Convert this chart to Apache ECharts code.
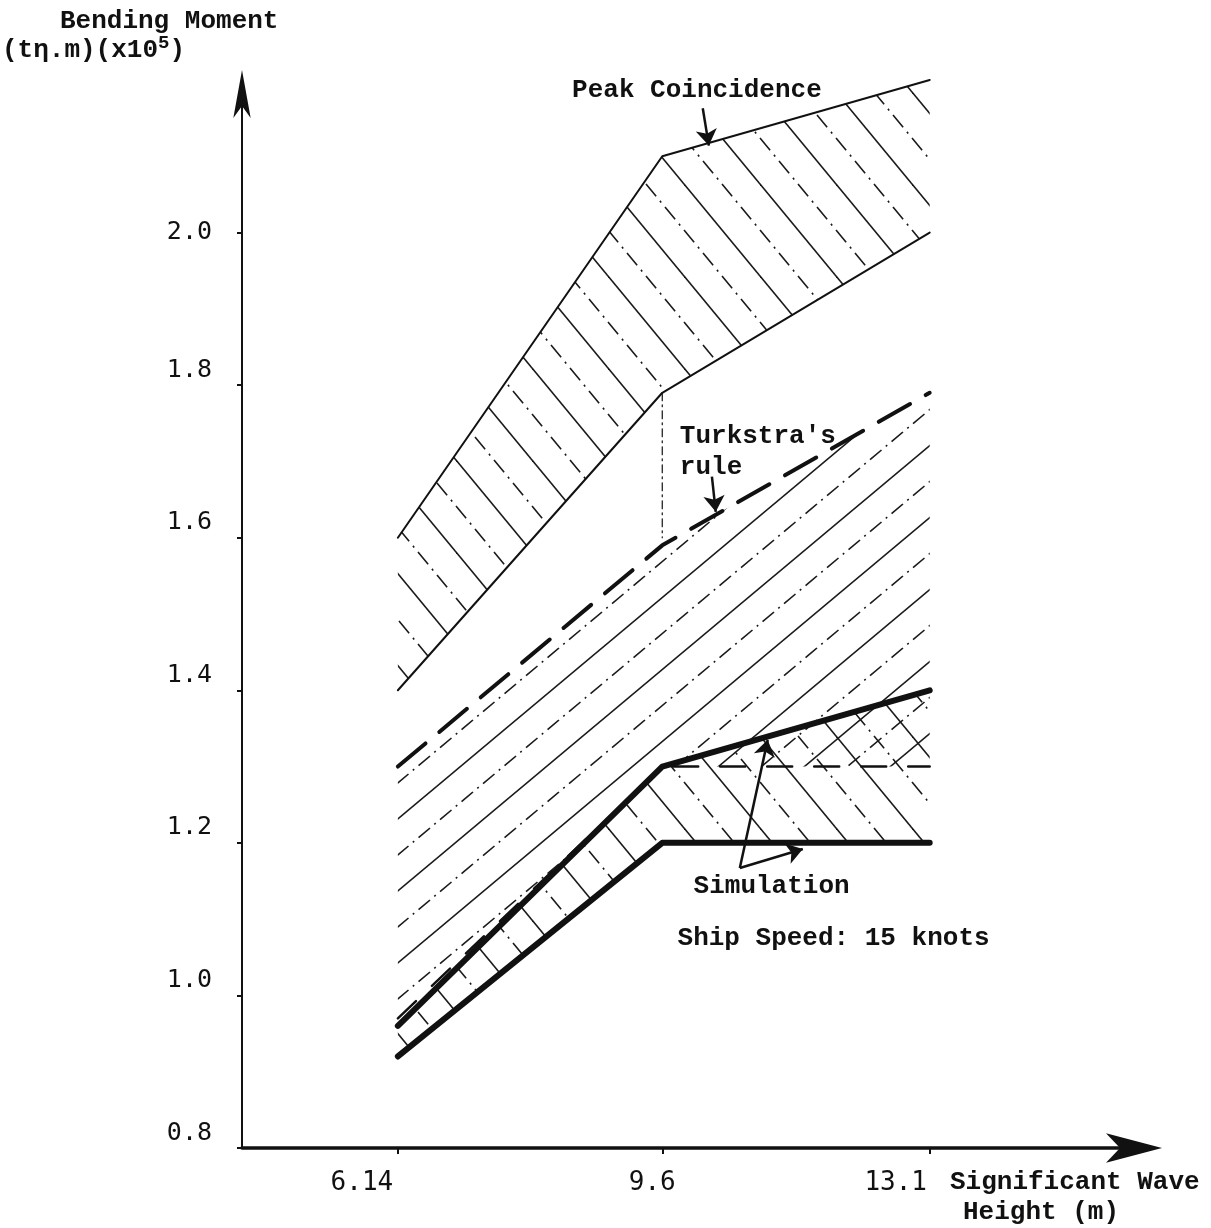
<!DOCTYPE html>
<html>
<head>
<meta charset="utf-8">
<script src="https://cdn.jsdelivr.net/npm/echarts@6/dist/echarts.min.js"></script>
<style>
  html, body { margin: 0; padding: 0; background: #fff; }
  #chart { width: 1211px; height: 1228px; }
</style>
</head>
<body>
<div id="chart"></div>
<script>
// significant wave height (m)
const waveHeights = [6.14, 9.6, 13.1]
const xTickLabels = ['6.14', '9.6', '13.1']
// bending moment ticks (t.m x10^5)
const yTicks = [0.8, 1.0, 1.2, 1.4, 1.6, 1.8, 2.0]

// bending moment (t.m x10^5) at each wave height
const peakUpper = [1.6, 2.1, 2.2]
const peakLower = [1.4, 1.79, 2.0]
const turkstra = [1.3, 1.59, 1.79]
const simUpper = [0.96, 1.3, 1.4]
const simLower = [0.92, 1.2, 1.2]
const simDashed = [0.97, 1.3, 1.3]
// short dash-dot divider under the peak band at 9.6 m
const dividerX = 9.6
const dividerY = [1.79, 1.6]

// annotation texts, anchored in data units
const noteTexts = ['Peak Coincidence', "Turkstra's\nrule", 'Simulation', 'Ship Speed: 15 knots']
const noteAt = [[8.42, 2.186], [9.83, 1.713], [10.01, 1.143], [9.8, 1.075]]
// pointer arrows [from, to]
const arrowPairs = [
  [[10.13, 2.163], [10.21, 2.114]],
  [[10.25, 1.68], [10.3, 1.634]],
  [[10.615, 1.167], [10.98, 1.335]],
  [[10.615, 1.167], [11.44, 1.192]]
]

const ink = '#111'
const pts = ys => waveHeights.map((x, i) => [x, ys[i]])

// hatch tile: lines through (k*w, 0), '\' if dir > 0, '/' otherwise
function hatch(w, h, dir, lw) {
  const c = document.createElement('canvas')
  c.width = 2 * w
  c.height = 2 * h
  const g = c.getContext('2d')
  g.strokeStyle = '#1a1a1a'
  g.lineWidth = lw
  const L = 2 * Math.hypot(w, h)
  const s = L / 4 / 30
  const dashes = [[], [16 * s, 6 * s, 2 * s, 6 * s]]
  for (let k = -4; k <= 6; k++) {
    g.setLineDash(dashes[((k % 2) + 2) % 2])
    g.beginPath()
    if (dir > 0) {
      g.moveTo(k * w - 2 * w, -2 * h)
      g.lineTo(k * w + 4 * w, 4 * h)
    } else {
      g.moveTo(k * w + 2 * w, -2 * h)
      g.lineTo(k * w - 4 * w, 4 * h)
    }
    g.stroke()
  }
  return c
}

function band(name, poly, tile) {
  return {
    type: 'custom',
    name: name,
    silent: true,
    z: 1,
    data: [poly[0]],
    renderItem: (params, api) => ({
      type: 'polygon',
      shape: { points: poly.map(p => api.coord(p)) },
      style: { fill: { image: tile, repeat: 'repeat' }, stroke: null }
    })
  }
}

function line(name, data, width, type) {
  return {
    type: 'line',
    name: name,
    data: data,
    symbol: 'none',
    silent: true,
    z: 3,
    lineStyle: { color: ink, width: width, type: type || 'solid', cap: 'round', join: 'round' }
  }
}

const chart = echarts.init(document.getElementById('chart'))

chart.setOption({
  backgroundColor: '#fff',
  animation: false,
  grid: { left: 242, right: 75, top: 80, bottom: 80 },
  xAxis: {
    type: 'value',
    min: 4.1,
    max: 15.8,
    splitLine: { show: false },
    axisLine: {
      lineStyle: { color: ink, width: 3.5 },
      symbol: ['none', 'arrow'],
      symbolSize: [22, 56],
      symbolOffset: [0, 26]
    },
    axisTick: { customValues: waveHeights, length: 6, lineStyle: { color: ink, width: 2 } },
    axisLabel: {
      customValues: waveHeights,
      formatter: v => {
        const i = waveHeights.indexOf(v)
        return '{t' + i + '|' + xTickLabels[i] + '}'
      },
      margin: 22,
      color: ink,
      rich: {
        t0: { fontFamily: 'DejaVu Sans Mono', fontSize: 26, color: ink, padding: [0, 72, 0, 0] },
        t1: { fontFamily: 'DejaVu Sans Mono', fontSize: 26, color: ink, padding: [0, 20, 0, 0] },
        t2: { fontFamily: 'DejaVu Sans Mono', fontSize: 26, color: ink, padding: [0, 68, 0, 0] }
      }
    }
  },
  yAxis: {
    type: 'value',
    min: 0.8,
    max: 2.2,
    interval: 0.2,
    splitLine: { show: false },
    axisLine: {
      lineStyle: { color: ink, width: 2 },
      symbol: ['none', 'arrow'],
      symbolSize: [13, 48],
      symbolOffset: [0, 10]
    },
    axisTick: { customValues: yTicks, length: 5, lineStyle: { color: ink, width: 2 } },
    axisLabel: {
      customValues: yTicks,
      margin: 30,
      color: ink,
      formatter: v => (v > 1.95 ? '{a|' : '{b|') + v.toFixed(1) + '}',
      rich: {
        a: { fontFamily: 'DejaVu Sans Mono', fontSize: 25, color: ink },
        b: { fontFamily: 'DejaVu Sans Mono', fontSize: 25, color: ink, padding: [0, 0, 30, 0] }
      }
    }
  },
  graphic: [
    { type: 'text', left: 60, top: 8, style: { text: 'Bending Moment', font: 'bold 26px "Liberation Mono"', fill: ink } },
    {
      type: 'text', left: 2, top: 34,
      style: {
        text: '(tη.m)(x10{s|5})',
        font: 'bold 26px "Liberation Mono"',
        fill: ink,
        rich: { s: { fontSize: 19, fontWeight: 'bold', fontFamily: 'Liberation Mono', verticalAlign: 'bottom', padding: [0, 0, 14, 0], fill: ink } }
      }
    },
    { type: 'text', left: 950, top: 1169, style: { text: 'Significant Wave', font: 'bold 26px "Liberation Mono"', fill: ink } },
    { type: 'text', left: 963, top: 1199, style: { text: 'Height (m)', font: 'bold 26px "Liberation Mono"', fill: ink } }
  ],
  series: [
    band('peak band', pts(peakUpper).concat(pts(peakLower).reverse()), hatch(38, 46, 1, 1.6)),
    band('turkstra band', pts(turkstra).concat(pts(simDashed).reverse()), hatch(43, 36, -1, 1.6)),
    band('simulation band', pts(simUpper).concat(pts(simLower).reverse()), hatch(38, 46, 1, 1.6)),
    line('Peak upper', pts(peakUpper), 2),
    line('Peak lower', pts(peakLower), 2),
    line('divider', [[dividerX, dividerY[0]], [dividerX, dividerY[1]]], 1.2, [8, 4, 2, 4]),
    line("Turkstra's rule", pts(turkstra), 4, [36, 18]),
    line('Simulation dashed', pts(simDashed), 2.5, [25, 22]),
    line('Simulation upper', pts(simUpper), 6),
    line('Simulation lower', pts(simLower), 6),
    {
      type: 'scatter',
      name: 'notes',
      silent: true,
      z: 4,
      symbolSize: 0,
      itemStyle: { opacity: 1, color: ink },
      data: noteTexts.map((t, i) => ({ value: noteAt[i], label: { formatter: t } })),
      label: {
        show: true,
        position: 'right',
        distance: 0,
        color: ink,
        fontFamily: 'Liberation Mono',
        fontWeight: 'bold',
        fontSize: 26,
        lineHeight: 31
      },
      markLine: {
        silent: true,
        symbol: ['none', 'arrow'],
        symbolSize: 16,
        label: { show: false },
        lineStyle: { color: ink, width: 2.5, type: 'solid', opacity: 1 },
        data: arrowPairs.map(p => [{ coord: p[0] }, { coord: p[1] }])
      }
    }
  ]
})
</script>
</body>
</html>
